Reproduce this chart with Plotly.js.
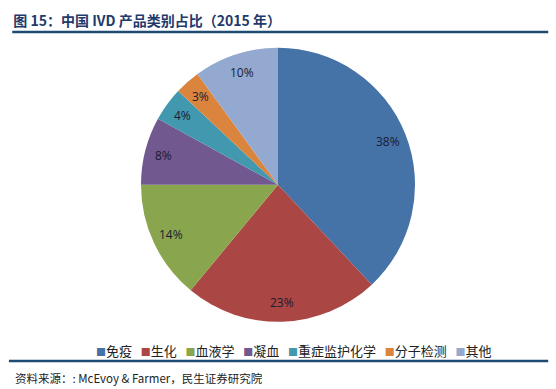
<!DOCTYPE html>
<html><head><meta charset="utf-8">
<script src="https://cdn.plot.ly/plotly-3.0.1.min.js"></script>
<style>html,body{margin:0;padding:0;background:#fff}#c{width:556px;height:389px}</style>
</head><body><div id="c"></div>
<script>
const categories = ["免疫","生化","血液学","凝血","重症监护化学","分子检测","其他"];
const shares = [38,23,14,8,4,3,10];
const colors = ["#4572A7","#AA4643","#89A54E","#71588F","#4198AF","#DB843D","#93A9CF"];
const titleText = "图 15：中国 IVD 产品类别占比（2015 年）";
const sourceText = "资料来源：: McEvoy &amp; Farmer，民生证券研究院";

const W = 556, H = 389;
const dom = {x: [0.2536, 0.7464], y: [0.172, 0.878]};

const trace = {
  type: "pie",
  labels: categories,
  values: shares,
  sort: false,
  direction: "clockwise",
  rotation: 0,
  marker: {colors: colors, line: {width: 0}},
  textinfo: "none",
  hoverinfo: "label+percent",
  showlegend: false,
  domain: dom
};

// percentage labels placed along each slice's bisector (Excel "best fit" look)
const total = shares.reduce((a, b) => a + b, 0);
const cx = (dom.x[0] + dom.x[1]) / 2 * W;
const cy = (dom.y[0] + dom.y[1]) / 2 * H;
const rad = Math.min((dom.x[1] - dom.x[0]) * W, (dom.y[1] - dom.y[0]) * H) / 2;
let cum = 0;
const labelAnns = shares.map((v) => {
  const mid = (cum + v / 2) / total * 2 * Math.PI;
  cum += v;
  const px = cx + 0.86 * rad * Math.sin(mid);
  const py = cy + 0.86 * rad * Math.cos(mid);
  return {text: Math.round(v / total * 100) + "%", xref: "paper", yref: "paper",
    x: px / W, y: py / H, xanchor: "center", yanchor: "middle", showarrow: false,
    font: {family: "Open Sans, sans-serif", size: 12, color: "#1b1b33"}};
});

const legendText = categories.map((c, i) =>
  `<span style="color:${colors[i]};font-size:10px">■</span>${c}`).join("&nbsp;&nbsp;&nbsp;");

const layout = {
  width: W, height: H,
  margin: {l: 0, r: 0, t: 0, b: 0},
  paper_bgcolor: "#fff",
  showlegend: false,
  title: {text: "<b>" + titleText + "</b>", x: 0.024, xanchor: "left", y: 1 - 21/389, yanchor: "middle",
    font: {family: "Noto Sans CJK SC", size: 14, color: "#1F3A6B"}},
  shapes: [
    {type: "line", xref: "paper", yref: "paper", x0: 0.022, x1: 0.986, y0: 1 - 32/389, y1: 1 - 32/389,
     line: {color: "#1F4A73", width: 2.5}},
    {type: "line", xref: "paper", yref: "paper", x0: 0.016, x1: 0.986, y0: 1 - 361/389, y1: 1 - 361/389,
     line: {color: "#1F4A73", width: 2.5}}
  ],
  annotations: labelAnns.concat([
    {text: legendText, xref: "paper", yref: "paper", x: 94/W, xanchor: "left", y: 1 - 350/389, yanchor: "middle",
     showarrow: false, font: {family: "Noto Sans CJK SC", size: 13, color: "#222"}},
    {text: sourceText, xref: "paper", yref: "paper", x: 13/W, xanchor: "left", y: 1 - 378/389, yanchor: "middle",
     showarrow: false, font: {family: "Noto Sans CJK SC", size: 11.5, color: "#222"}}
  ])
};
Plotly.newPlot("c", [trace], layout, {displayModeBar: false, staticPlot: true});
</script></body></html>
